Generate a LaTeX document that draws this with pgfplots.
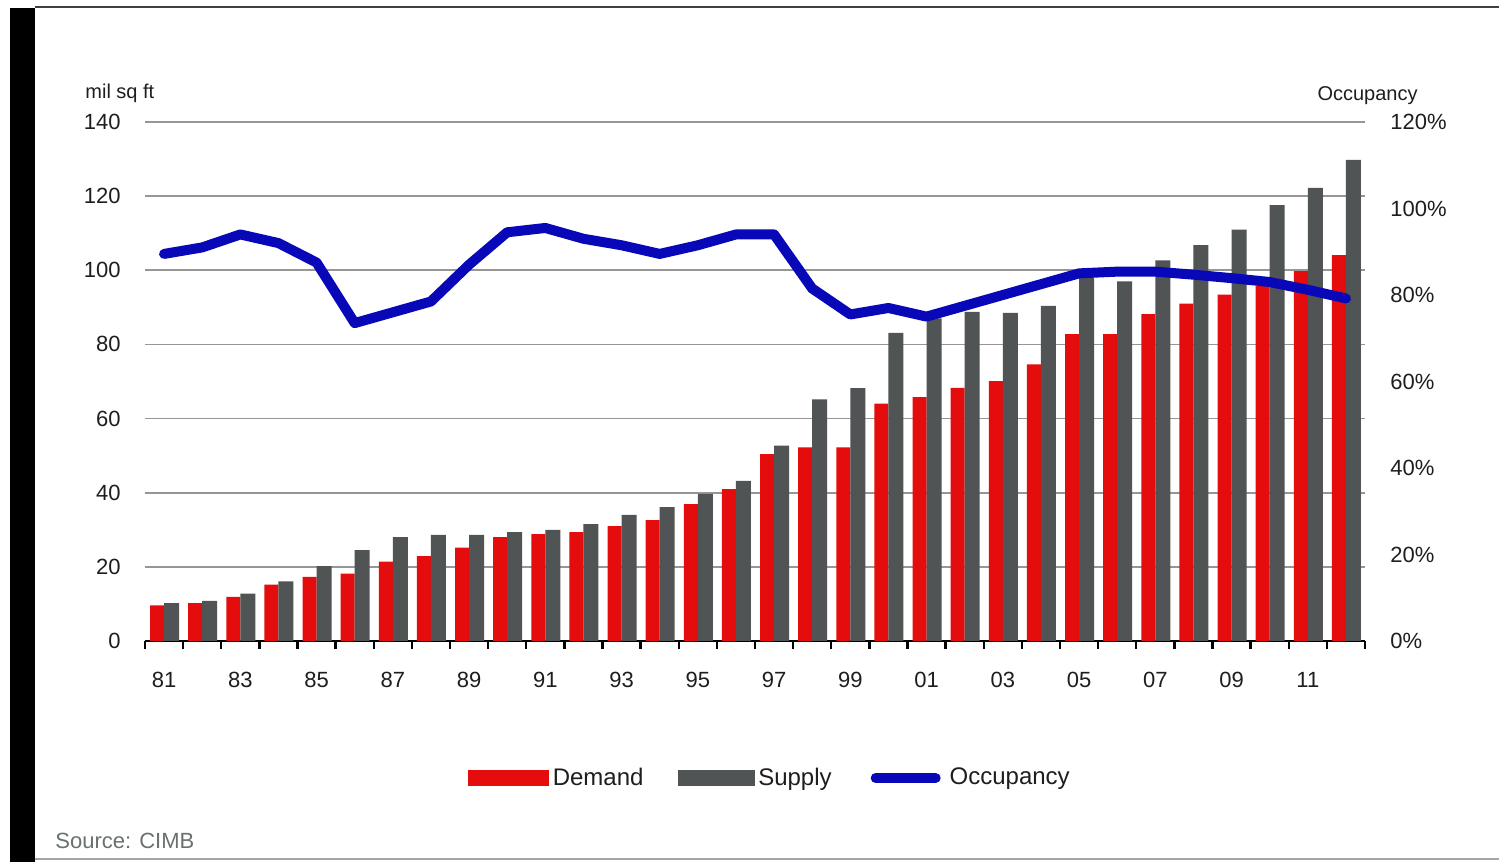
\documentclass[border=0pt]{standalone}
\usepackage{fontspec}
\setmainfont{Liberation Sans}
\usepackage{pgfplots}
\pgfplotsset{compat=1.18}
\usepackage{pgfplotstable}
\definecolor{demandred}{RGB}{228,12,12}
\definecolor{supplygray}{RGB}{80,84,84}
\definecolor{occblue}{RGB}{8,8,185}
\definecolor{gridgray}{RGB}{150,150,150}
\definecolor{txt}{RGB}{30,30,30}

\pgfplotstableread{
idx demand supply occ
0 9.6 10.2 89.5
1 10.2 10.8 91
2 11.9 12.8 94
3 15.2 16.1 92
4 17.3 20.2 87.5
5 18.2 24.5 73.5
6 21.4 28.0 76
7 22.9 28.6 78.5
8 25.2 28.6 87
9 28.0 29.4 94.5
10 28.8 30.0 95.5
11 29.4 31.5 93
12 31.0 34.0 91.5
13 32.6 36.1 89.5
14 36.9 39.7 91.5
15 41.0 43.2 94
16 50.4 52.7 94
17 52.2 65.2 81.5
18 52.2 68.2 75.5
19 64.0 83.1 77
20 65.8 87.0 75
21 68.3 88.8 77.5
22 70.1 88.5 80
23 74.6 90.4 82.5
24 82.8 98.0 85
25 82.8 97.0 85.4
26 88.2 102.7 85.4
27 91.0 106.8 84.7
28 93.4 111.0 83.9
29 95.8 117.6 83
30 99.8 122.2 81.2
31 104.1 129.8 79.2
}\datatable

\begin{document}
\begin{tikzpicture}[x=1pt,y=1pt]
\path[use as bounding box] (0,0) rectangle (749.5,431);
\fill[white] (0,0) rectangle (749.5,431);
\fill[black] (5,0) rectangle (17.5,427);
\draw[black!75, line width=1pt] (17.5,427.3) -- (749.5,427.3);
\draw[black!35, line width=1pt] (17.5,1.5) -- (749.5,1.5);

\begin{axis}[
  at={(72.5pt,110.5pt)}, anchor=south west,
  scale only axis, width=610pt, height=259.5pt,
  xmin=-0.5, xmax=31.5, ymin=0, ymax=140,
  axis x line*=bottom, axis y line*=left,
  y axis line style={draw=none},
  x axis line style={line width=1.2pt, black, -},
  xtick={0,2,...,30},
  xticklabels={81,83,85,87,89,91,93,95,97,99,01,03,05,07,09,11},
  minor xtick={-0.5,0.5,...,31.5},
  minor x tick style={black, line width=1.2pt},
  major tick length=0pt, minor tick length=4pt,
  tick align=outside,
  ytick={0,20,...,140},
  yticklabels={0,20,40,60,80,100,120,140},
  ymajorgrids,
  major grid style={gridgray, line width=0.9pt},
  yticklabel style={anchor=east, inner sep=0pt, xshift=-12pt, text=txt,
    font=\fontsize{11}{13}\selectfont},
  xticklabel style={anchor=north, inner sep=0pt, yshift=-15.5pt, text=txt,
    font=\fontsize{11}{13}\selectfont},
  clip=false,
]
\addplot[ybar, bar width=7pt, bar shift=-3.5pt, fill=demandred, draw=none]
  table[x=idx, y=demand] {\datatable};
\addplot[ybar, bar width=7.5pt, bar shift=3.75pt, fill=supplygray, draw=none]
  table[x=idx, y=supply] {\datatable};
\end{axis}

\begin{axis}[
  at={(72.5pt,110.5pt)}, anchor=south west,
  scale only axis, width=610pt, height=259.5pt,
  xmin=-0.5, xmax=31.5, ymin=0, ymax=120,
  hide x axis,
  axis y line*=right, y axis line style={draw=none},
  ytick={0,20,...,120},
  yticklabels={0\%,20\%,40\%,60\%,80\%,100\%,120\%},
  major tick length=0pt,
  yticklabel style={anchor=west, inner sep=0pt, xshift=12.5pt, text=txt,
    font=\fontsize{11}{13}\selectfont},
  legend style={at={(0.513,-0.264)}, anchor=center, draw=none, fill=none,
    legend columns=3, font=\fontsize{12}{14}\selectfont, text=txt,
    /tikz/every even column/.append style={column sep=15pt}},
  clip=false,
]
\addlegendimage{legend image code/.code={\fill[demandred] (0pt,-3.75pt) rectangle (40pt,3.75pt);}}
\addlegendentry{Demand}
\addlegendimage{legend image code/.code={\fill[supplygray] (0pt,-3.75pt) rectangle (38pt,3.75pt);}}
\addlegendentry{Supply}
\addplot[occblue, line width=5pt, line join=round, line cap=round,
  legend image code/.code={\draw[occblue, line width=5pt, line cap=round] (2.5pt,0pt) -- (32.5pt,0pt); \path (0pt,0pt) (35pt,0pt);}]
  table[x=idx, y=occ] {\datatable};
\addlegendentry{Occupancy}
\end{axis}

\node[anchor=west, inner sep=0pt, text=txt, font=\fontsize{10}{12}\selectfont] at (42.5,384.5) {mil sq ft};
\node[anchor=east, inner sep=0pt, text=txt, font=\fontsize{10}{12}\selectfont] at (709,383) {Occupancy};
\node[anchor=west, inner sep=0pt, text={rgb,255:red,105;green,112;blue,112}, font=\fontsize{11}{13}\selectfont] at (27.5,10.5) {Source: CIMB};
\end{tikzpicture}
\end{document}
